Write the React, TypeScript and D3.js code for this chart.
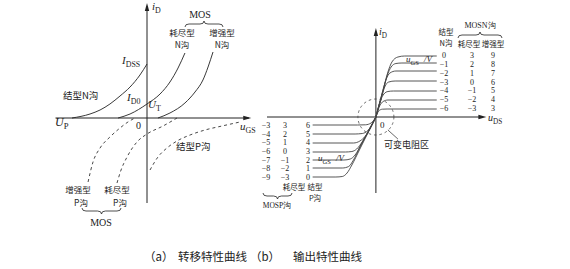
import React from 'react';
import * as d3 from 'd3';

type P = [number, number];

// ---- (a) transfer characteristics: u_GS (V) vs i_D (mA) ----
const junctionN: P[] = [[-5, 0], [-3.8, 0.4], [-3.13, 0.8], [-2.47, 1.4], [-1.8, 2.2], [-1.13, 3.1], [-0.47, 4.3], [0, 5.4]];
const depletionN: P[] = [[-1.93, 0], [-1.13, 0.4], [0, 1.4], [0.87, 2.4], [1.53, 3.6], [2.07, 5.0], [2.53, 6.5]];
const enhancementN: P[] = [[0.73, 0], [1.53, 0.5], [2.53, 1.5], [3.2, 2.6], [3.73, 3.8], [4.07, 5.1], [4.4, 6.6]];
const junctionP: P[] = [[0.2, -5.2], [0.73, -3.9], [1.33, -3.0], [2.0, -2.3], [2.87, -1.7], [3.87, -1.2], [5.0, -0.8], [6.2, -0.4]];
const depletionP: P[] = [[-2, -6.5], [-1.73, -5.2], [-1.33, -3.9], [-0.67, -2.4], [0, -1.6], [1.07, -0.8], [2.0, 0]];
const enhancementP: P[] = [[-3.93, -6.4], [-3.6, -4.4], [-3.13, -3.0], [-2.47, -1.9], [-1.8, -1.0], [-1.27, -0.4], [-0.8, 0]];

// ---- (b) output characteristics: u_DS (V) vs i_D (mA) ----
const outN: P[][] = [
  [[0, 0], [0.9, 2.7], [1.5, 4.5], [2.0, 5.5], [2.75, 6.0], [3.6, 6.1], [7.6, 6.1]],
  [[0, 0], [0.9, 2.6], [1.4, 4.1], [1.9, 5.0], [2.5, 5.35], [3.25, 5.4], [7.6, 5.4]],
  [[0, 0], [0.75, 2.3], [1.25, 3.7], [1.75, 4.4], [2.5, 4.6], [7.6, 4.6]],
  [[0, 0], [0.75, 2.1], [1.1, 3.0], [1.6, 3.5], [2.4, 3.6], [7.6, 3.6]],
  [[0, 0], [0.6, 1.7], [1.0, 2.3], [1.5, 2.55], [2.2, 2.6], [7.6, 2.6]],
  [[0, 0], [0.5, 1.15], [0.9, 1.55], [1.5, 1.7], [7.6, 1.7]],
  [[0, 0], [0.35, 0.6], [0.8, 0.78], [1.4, 0.8], [7.6, 0.8]],
];
const outP: P[][] = [
  [[-7.9, -0.8], [-2.3, -0.8], [-1.3, -0.78], [-0.6, -0.6], [0, 0]],
  [[-7.9, -1.7], [-2.6, -1.7], [-1.7, -1.65], [-1.0, -1.35], [0, 0]],
  [[-7.9, -2.6], [-2.8, -2.6], [-2.0, -2.4], [-1.3, -1.9], [0, 0]],
  [[-7.9, -3.5], [-3.8, -3.5], [-3.0, -3.45], [-2.4, -3.2], [-1.6, -2.35], [0, 0]],
  [[-7.9, -4.3], [-4.0, -4.3], [-3.2, -4.2], [-2.6, -3.8], [-1.8, -2.7], [0, 0]],
  [[-7.9, -5.1], [-4.2, -5.1], [-3.4, -4.95], [-2.8, -4.3], [-2.0, -3.0], [0, 0]],
  [[-7.9, -6.0], [-5.0, -6.0], [-4.2, -5.95], [-3.6, -5.6], [-3.0, -4.8], [-2.0, -3.2], [0, 0]],
];
const colNJ = ['0', '−1', '−2', '−3', '−4', '−5', '−6'];
const colNDep = ['3', '2', '1', '0', '−1', '−2', '−3'];
const colNEnh = ['9', '8', '7', '6', '5', '4', '3'];
const colPEnh = ['−3', '−4', '−5', '−6', '−7', '−8', '−9'];
const colPDep = ['3', '2', '1', '0', '−1', '−2', '−3'];
const colPJ = ['6', '5', '4', '3', '2', '1', '0'];

const serif = '"Liberation Serif", "DejaVu Serif", serif';
const cjk = '"Noto Sans CJK SC", sans-serif';
const ink = '#222';

function brace(x1: number, x2: number, y: number, h: number) {
  const m = (x1 + x2) / 2;
  const q = 4;
  return `M${x1},${y + h} Q${x1},${y} ${x1 + q},${y} L${m - q},${y} Q${m},${y} ${m},${y - h} Q${m},${y} ${m + q},${y} L${x2 - q},${y} Q${x2},${y} ${x2},${y + h}`;
}
function arrowUp(x: number, y: number) {
  return `M${x},${y} L${x - 2.2},${y + 8} L${x + 2.2},${y + 8} Z`;
}
function arrowRight(x: number, y: number) {
  return `M${x},${y} L${x - 8},${y - 2.2} L${x - 8},${y + 2.2} Z`;
}

const Sub = ({ x, y, main, sub, size = 11, italic = true }: any) => (
  <text x={x} y={y} fontFamily={serif} fontSize={size} fill={ink}>
    <tspan fontStyle={italic ? 'italic' : 'normal'}>{main}</tspan>
    <tspan fontSize={size * 0.72} dy={size * 0.28}>{sub}</tspan>
  </text>
);

const Cn = ({ x, y, t, size = 9.5, anchor = 'start' }: any) => (
  <text x={x} y={y} fontFamily={cjk} fontSize={size} fill={ink} textAnchor={anchor}>{t}</text>
);

export default function App() {
  const xL = d3.scaleLinear().domain([-6, 7]).range([57, 252]);
  const yL = d3.scaleLinear().domain([-9, 11.5]).range([208, 3]);
  const xR = d3.scaleLinear().domain([-13.6, 14]).range([267, 488]);
  const yR = d3.scaleLinear().domain([-7.6, 8.9]).range([193, 28]);
  const rowN = d3.scalePoint<number>().domain(d3.range(7)).range([58, 111]);
  const rowP = d3.scalePoint<number>().domain(d3.range(7)).range([128, 180]);

  const lineL = d3.line<P>().x(d => xL(d[0])).y(d => yL(d[1])).curve(d3.curveMonotoneX);
  const lineR = d3.line<P>().x(d => xR(d[0])).y(d => yR(d[1])).curve(d3.curveMonotoneX);

  const oxL = xL(0), oyL = yL(0), oxR = xR(0), oyR = yR(0);

  return (
    <svg width={570} height={269} viewBox="0 0 570 269"
      style={{ position: 'absolute', left: 0, top: 0, background: '#fff' }}>
      <rect width={570} height={269} fill="#fff" />
      {/* ===== (a) axes ===== */}
      <g stroke={ink} strokeWidth={1} fill="none">
        <line x1={xL(-6.1)} y1={oyL} x2={xL(6.8)} y2={oyL} />
        <line x1={oxL} y1={yL(11.2)} x2={oxL} y2={yL(-8.5)} />
      </g>
      <path d={arrowUp(oxL, yL(11.5))} fill={ink} />
      <path d={arrowRight(xL(6.95), oyL)} fill={ink} />
      <g stroke={ink} strokeWidth={0.9} fill="none">
        <path d={lineL(junctionN)!} />
        <path d={lineL(depletionN)!} />
        <path d={lineL(enhancementN)!} />
      </g>
      <g stroke="#333" strokeWidth={0.9} fill="none" strokeDasharray="3,3">
        <path d={lineL(junctionP)!} />
        <path d={lineL(depletionP)!} />
        <path d={lineL(enhancementP)!} />
      </g>
      <Sub x={152} y={10} main="i" sub="D" size={11} />
      <Sub x={240} y={130} main="u" sub="GS" size={11} />
      <text x={136} y={129} fontFamily={serif} fontSize={10} fill={ink}>0</text>
      <Sub x={55} y={126} main="U" sub="P" size={12} />
      <Sub x={122} y={64} main="I" sub="DSS" size={11} />
      <Sub x={127} y={101} main="I" sub="D0" size={11} />
      <Sub x={148} y={108} main="U" sub="T" size={11} />
      <Cn x={63} y={99} t="结型N沟" />
      <text x={200} y={18} fontFamily={serif} fontSize={10} fill={ink} textAnchor="middle">MOS</text>
      <path d={brace(185, 223, 24, 3)} stroke={ink} strokeWidth={0.8} fill="none" />
      <Cn x={182} y={35.5} t="耗尽型" size={8.5} anchor="middle" />
      <Cn x={182} y={48} t="N沟" size={8.5} anchor="middle" />
      <Cn x={222} y={35.5} t="增强型" size={8.5} anchor="middle" />
      <Cn x={222} y={48} t="N沟" size={8.5} anchor="middle" />
      <Cn x={176} y={150} t="结型P沟" />
      <Cn x={78} y={193} t="增强型" size={8.5} anchor="middle" />
      <Cn x={81} y={205.5} t="P沟" size={8.5} anchor="middle" />
      <Cn x={117} y={193} t="耗尽型" size={8.5} anchor="middle" />
      <Cn x={120} y={205.5} t="P沟" size={8.5} anchor="middle" />
      <path d={brace(82, 121, 211, -3)} stroke={ink} strokeWidth={0.8} fill="none" />
      <text x={101} y={226} fontFamily={serif} fontSize={10} fill={ink} textAnchor="middle">MOS</text>

      {/* ===== (b) axes ===== */}
      <g stroke={ink} strokeWidth={1} fill="none">
        <line x1={xR(-13.6)} y1={oyR} x2={xR(13.2)} y2={oyR} />
        <line x1={oxR} y1={yR(8.4)} x2={oxR} y2={yR(-7.6)} />
      </g>
      <path d={arrowUp(oxR, yR(8.9))} fill={ink} />
      <path d={arrowRight(xR(13.8), oyR)} fill={ink} />
      <g stroke="#444" strokeWidth={0.9} fill="none">
        {outN.map((c, i) => <path key={'n' + i} d={lineR(c)!} />)}
        {outP.map((c, i) => <path key={'p' + i} d={lineR(c)!} />)}
      </g>
      <circle cx={oxR} cy={oyR} r={18} fill="none" stroke="#444" strokeWidth={0.8} strokeDasharray="2.5,3" />
      <line x1={oxR + 12} y1={oyR + 13} x2={oxR + 22} y2={oyR + 22} stroke="#444" strokeWidth={0.8} />
      <Cn x={384} y={148} t="可变电阻区" size={9} />
      <Sub x={379} y={35} main="i" sub="D" size={10} />
      <Sub x={488} y={121} main="u" sub="DS" size={10} />
      <text x={380} y={128} fontFamily={serif} fontSize={9} fill={ink}>0</text>
      <Sub x={406} y={62} main="u" sub="GS" size={9} />
      <text x={424} y={62} fontFamily={serif} fontSize={9} fill={ink} fontStyle="italic">/V</text>
      <Sub x={318} y={161} main="u" sub="GS" size={9} />
      <text x={336} y={161} fontFamily={serif} fontSize={9} fill={ink} fontStyle="italic">/V</text>
      <Cn x={446} y={35} t="结型" size={7.5} anchor="middle" />
      <Cn x={446} y={46} t="N沟" size={7.5} anchor="middle" />
      <text x={480} y={28} fontFamily={serif} fontSize={8} fill={ink} textAnchor="middle">MOSN沟</text>
      <path d={brace(458, 502, 35, 3)} stroke={ink} strokeWidth={0.8} fill="none" />
      <Cn x={469} y={47} t="耗尽型" size={7.5} anchor="middle" />
      <Cn x={493} y={47} t="增强型" size={7.5} anchor="middle" />
      {colNJ.map((_, i) => (
        <g key={'ln' + i} fontFamily={serif} fontSize={8} fill={ink} textAnchor="middle">
          <text x={444} y={rowN(i)}>{colNJ[i]}</text>
          <text x={472} y={rowN(i)}>{colNDep[i]}</text>
          <text x={493} y={rowN(i)}>{colNEnh[i]}</text>
        </g>
      ))}
      {colPEnh.map((_, i) => (
        <g key={'lp' + i} fontFamily={serif} fontSize={8} fill={ink} textAnchor="middle">
          <text x={266} y={rowP(i)}>{colPEnh[i]}</text>
          <text x={285} y={rowP(i)}>{colPDep[i]}</text>
          <text x={308} y={rowP(i)}>{colPJ[i]}</text>
        </g>
      ))}
      <Cn x={294} y={190} t="耗尽型" size={7.5} anchor="middle" />
      <Cn x={315} y={190} t="结型" size={7.5} anchor="middle" />
      <Cn x={315} y={201} t="P沟" size={7.5} anchor="middle" />
      <path d={brace(263, 292, 196, -3)} stroke={ink} strokeWidth={0.8} fill="none" />
      <text x={277} y={208} fontFamily={serif} fontSize={7.5} fill={ink} textAnchor="middle">MOSP沟</text>

      <text x={144} y={261} fontFamily={cjk} fontSize={11.5} fill={ink}>（a）</text>
      <text x={178} y={261} fontFamily={cjk} fontSize={11.5} fill={ink}>转移特性曲线</text>
      <text x={250} y={261} fontFamily={cjk} fontSize={11.5} fill={ink}>（b）</text>
      <text x={293} y={261} fontFamily={cjk} fontSize={11.5} fill={ink}>输出特性曲线</text>
    </svg>
  );
}
